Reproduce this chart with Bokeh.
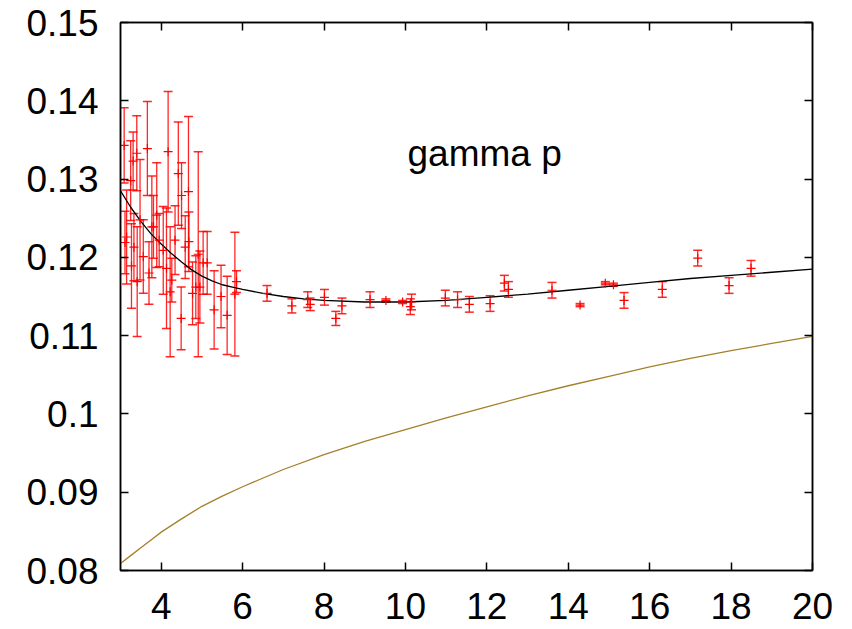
from bokeh.plotting import figure
from bokeh.models import (ColumnDataSource, Whisker, TeeHead, FixedTicker, LinearAxis,
                          Label, Range1d, CustomLabelingPolicy)
from bokeh.embed import file_html
from bokeh.resources import INLINE

# ---- data ----
pts_x = [3.09, 3.11, 3.15, 3.25, 3.27, 3.31, 3.33, 3.40, 3.41, 3.48,
         3.56, 3.66, 3.70, 3.77, 3.81, 3.89, 3.95, 4.05, 4.13, 4.17,
         4.22, 4.26, 4.34, 4.42, 4.49, 4.50, 4.59, 4.67, 4.68, 4.77,
         4.85, 4.91, 4.95, 5.03, 5.13, 5.30, 5.47, 5.62, 5.81, 5.85,
         6.60, 7.21, 7.60, 7.66, 8.01, 8.29, 8.44, 9.13, 9.52, 9.93,
         10.15, 10.12, 10.98, 11.28, 11.57, 12.08, 12.43, 12.53, 13.60, 14.29,
         14.91, 15.11, 15.37, 16.31, 17.18, 17.95, 18.49]
pts_y = [0.1343, 0.1219, 0.1226, 0.1298, 0.1189, 0.1323, 0.1213, 0.1333, 0.1169, 0.1248,
         0.1201, 0.1339, 0.1180, 0.1239, 0.1239, 0.1254, 0.1222, 0.1209, 0.1186, 0.1335,
         0.1156, 0.1171, 0.1222, 0.1307, 0.1122, 0.1279, 0.1213, 0.1284, 0.1220, 0.1154,
         0.1162, 0.1204, 0.1162, 0.1193, 0.1193, 0.1133, 0.1150, 0.1126, 0.1153, 0.1169,
         0.1154, 0.1138, 0.1146, 0.1140, 0.1149, 0.1122, 0.1138, 0.1146, 0.1145, 0.1143,
         0.1143, 0.1137, 0.1148, 0.1146, 0.1140, 0.1141, 0.1167, 0.1159, 0.1158, 0.1139,
         0.1167, 0.1165, 0.1145, 0.1159, 0.1199, 0.1164, 0.1186]
pts_err = [0.0048, 0.0040, 0.0060, 0.0051, 0.0054, 0.0037, 0.0043, 0.0048, 0.0070, 0.0077,
           0.0047, 0.0060, 0.0040, 0.0065, 0.0040, 0.0067, 0.0034, 0.0056, 0.0077, 0.0077,
           0.0083, 0.0028, 0.0044, 0.0066, 0.0040, 0.0042, 0.0040, 0.0096, 0.0038, 0.0040,
           0.0040, 0.0131, 0.0046, 0.0040, 0.0040, 0.0050, 0.0040, 0.0050, 0.0079, 0.0014,
           0.0010, 0.0009, 0.0010, 0.0008, 0.0010, 0.0009, 0.0010, 0.0010, 0.0002, 0.0002,
           0.0010, 0.0010, 0.0010, 0.0010, 0.0010, 0.0010, 0.0010, 0.0010, 0.0010, 0.0002,
           0.0002, 0.0002, 0.0010, 0.0010, 0.0010, 0.0010, 0.0010]

fit_x = [3.0, 3.25, 3.5, 3.75, 4.0, 4.25, 4.5, 4.75, 5.0, 5.25, 5.5, 5.75, 6.0, 6.5, 7.0,
         7.5, 8.0, 9.0, 10.0, 11.0, 12.0, 13.0, 14.0, 15.0, 16.0, 17.0, 18.0, 19.0, 20.0]
fit_y = [0.1285, 0.1264, 0.1246, 0.1230, 0.1217, 0.1205, 0.1194, 0.1184, 0.1176, 0.1170,
         0.1165, 0.1162, 0.1159, 0.1154, 0.1150, 0.1147, 0.1145, 0.1143, 0.1143,
         0.1145, 0.1149, 0.1153, 0.1158, 0.1163, 0.1168, 0.1173, 0.1177, 0.1181, 0.1185]

ref_x = [3.0, 3.25, 3.5, 3.75, 4.0, 4.5, 5.0, 5.5, 6.0, 7.0, 8.0, 9.0, 10.0,
         11.0, 12.0, 13.0, 14.0, 15.0, 16.0, 17.0, 18.0, 19.0, 20.0]
ref_y = [0.0809, 0.0819, 0.0829, 0.0839, 0.0849, 0.0866, 0.0882, 0.0895, 0.0907, 0.0929,
         0.0948, 0.0965, 0.0980, 0.0995, 0.1009, 0.1023, 0.1036, 0.1048, 0.1060, 0.1071,
         0.1081, 0.1090, 0.1099]

x_ticks = [4, 6, 8, 10, 12, 14, 16, 18, 20]
x_tick_labels = ["4", "6", "8", "10", "12", "14", "16", "18", "20"]
y_ticks = [0.08, 0.09, 0.10, 0.11, 0.12, 0.13, 0.14, 0.15]
y_tick_labels = ["0.08", "0.09", "0.1", "0.11", "0.12", "0.13", "0.14", "0.15"]
title_text = "gamma p"

# ---- figure ----
FONT = "Liberation Sans"
FS = "37px"

p = figure(width=852, height=629, output_backend="svg", toolbar_location=None,
           x_range=Range1d(3, 20), y_range=Range1d(0.08, 0.15),
           min_border_left=120, min_border_right=40, min_border_top=22, min_border_bottom=59,
           x_axis_location=None, y_axis_location=None)
p.grid.visible = False
p.outline_line_color = "black"
p.outline_line_width = 1.5
p.background_fill_color = "white"
p.border_fill_color = "white"

hide_all = CustomLabelingPolicy(code="""
const arr = [...indices];
for (const i of arr) indices.unset(i);
return indices;
""")

def style_axis(ax, ticks, labels, show_labels):
    ax.ticker = FixedTicker(ticks=ticks)
    ax.major_label_overrides = dict(zip(ticks, labels))
    ax.minor_tick_line_color = None
    ax.major_tick_in = 8
    ax.major_tick_out = 0
    ax.major_tick_line_color = "black"
    ax.major_tick_line_width = 1.5
    ax.axis_line_color = "black"
    ax.axis_line_width = 1.5
    ax.major_label_text_font = FONT
    ax.major_label_text_color = "black"
    if show_labels:
        ax.major_label_text_font_size = FS
        ax.major_label_standoff = 22
    else:
        ax.major_label_text_font_size = "0px"
        ax.major_label_standoff = 0
        ax.major_label_policy = hide_all

xb = LinearAxis(); style_axis(xb, x_ticks, x_tick_labels, True)
yl = LinearAxis(); style_axis(yl, y_ticks, y_tick_labels, True)
xt = LinearAxis(); style_axis(xt, x_ticks, x_tick_labels, False)
yr = LinearAxis(); style_axis(yr, y_ticks, y_tick_labels, False)
p.add_layout(xb, "below")
p.add_layout(yl, "left")
p.add_layout(xt, "above")
p.add_layout(yr, "right")

# curves
p.line(ref_x, ref_y, line_color="#a5802a", line_width=1.3)
p.line(fit_x, fit_y, line_color="black", line_width=1.3)

# data with error bars
src = ColumnDataSource(dict(x=pts_x, y=pts_y,
                            lo=[a - b for a, b in zip(pts_y, pts_err)],
                            hi=[a + b for a, b in zip(pts_y, pts_err)]))
wh = Whisker(source=src, base="x", upper="hi", lower="lo", dimension="height",
             line_color="red", line_width=1.3, line_alpha=0.85,
             upper_head=TeeHead(size=9, line_color="red", line_width=1.5, line_alpha=0.85),
             lower_head=TeeHead(size=9, line_color="red", line_width=1.5, line_alpha=0.85))
p.add_layout(wh)
p.scatter("x", "y", source=src, marker="cross", size=9, line_color="red", line_width=1.2)

p.add_layout(Label(x=10.05, y=0.1333, text=title_text, text_font=FONT, text_font_size=FS,
                   text_color="black", text_baseline="alphabetic", text_align="left"))

open("out.html", "w").write(file_html(p, INLINE))
